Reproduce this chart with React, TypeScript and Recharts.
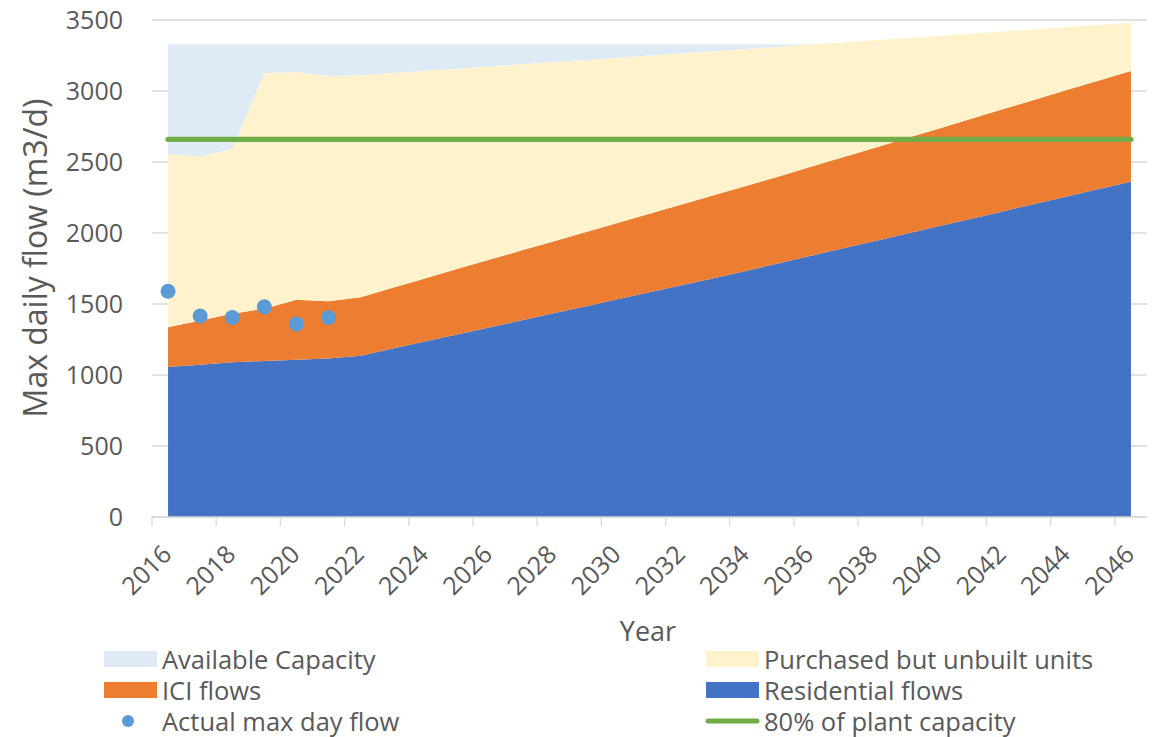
import React from 'react'
import { ComposedChart, Area, Line, XAxis, YAxis, CartesianGrid } from 'recharts'

const years = [
  2016, 2017, 2018, 2019, 2020, 2021, 2022, 2023, 2024, 2025, 2026, 2027, 2028, 2029, 2030, 2031,
  2032, 2033, 2034, 2035, 2036, 2037, 2038, 2039, 2040, 2041, 2042, 2043, 2044, 2045, 2046,
]

const residential = [
  1056, 1073, 1089, 1099, 1108, 1117, 1136, 1186, 1236, 1286, 1335, 1384, 1434, 1483, 1533, 1582,
  1632, 1682, 1733, 1786, 1838, 1890, 1942, 1994, 2047, 2099, 2152, 2204, 2257, 2309, 2361,
]

const iciFlows = [
  281, 311, 342, 368, 422, 403, 412, 428, 444, 460, 476, 492, 507, 523, 538, 554,
  568, 583, 598, 611, 626, 641, 657, 673, 688, 704, 719, 735, 750, 765, 780,
]

const purchasedUnbuilt = [
  1219, 1155, 1160, 1658, 1604, 1586, 1563, 1512, 1462, 1411, 1362, 1312, 1263, 1213, 1163, 1114,
  1065, 1015, 965, 914, 863, 811, 758, 706, 653, 601, 548, 495, 443, 391, 340,
]

const availableCapacity = [
  774, 791, 739, 205, 196, 224, 219, 204, 188, 173, 157, 142, 126, 111, 96, 80,
  65, 50, 34, 19, 3, 0, 0, 0, 0, 0, 0, 0, 0, 0, 0,
]

// 2016-2021 only
const actualMaxDay = [1590, 1415, 1405, 1480, 1360, 1405]

const plantCapacity80 = 2660

const yTicks = [0, 500, 1000, 1500, 2000, 2500, 3000, 3500]

const data = years.map((year, i) => ({
  year,
  residential: residential[i],
  ici: iciFlows[i],
  purchased: purchasedUnbuilt[i],
  available: availableCapacity[i],
  actual: i < actualMaxDay.length ? actualMaxDay[i] : null,
  plant80: plantCapacity80,
}))

// tick marks sit on category boundaries, every second year
const tickBounds = years.filter((_, i) => i % 2 === 0).map((y) => y - 0.5)

const FONT = '"Open Sans", sans-serif'
const TEXT = '#595959'
const GRID = '#d9d9d9'

const XTick = (props: any) => {
  const { x, y, payload } = props
  const tx = x + 21
  const ty = y + 30
  return (
    <text
      x={tx}
      y={ty}
      textAnchor="end"
      transform={`rotate(-45, ${tx}, ${ty})`}
      fontSize={25}
      fontFamily={FONT}
      fill={TEXT}
    >
      {Math.round(payload.value + 0.5)}
    </text>
  )
}

const legendLeft = [
  { label: 'Available Capacity', kind: 'box', color: '#DEEBF7' },
  { label: 'ICI flows', kind: 'box', color: '#ED7D31' },
  { label: 'Actual max day flow', kind: 'dot', color: '#5B9BD5' },
]
const legendRight = [
  { label: 'Purchased but unbuilt units', kind: 'box', color: '#FFF2CC' },
  { label: 'Residential flows', kind: 'box', color: '#4472C4' },
  { label: '80% of plant capacity', kind: 'line', color: '#70AD47' },
]
const rowY = [659, 690, 721]

function LegendItem({ item, x, y }: { item: any; x: number; y: number }) {
  return (
    <g>
      {item.kind === 'box' && <rect x={x} y={y - 8} width={53} height={16} fill={item.color} />}
      {item.kind === 'dot' && <circle cx={x + 24} cy={y} r={6} fill={item.color} />}
      {item.kind === 'line' && (
        <line x1={x + 2} x2={x + 51} y1={y} y2={y} stroke={item.color} strokeWidth={5} strokeLinecap="round" />
      )}
      <text x={x + 58} y={y} dominantBaseline="central" fontSize={25.5} fontFamily={FONT} fill={TEXT}>
        {item.label}
      </text>
    </g>
  )
}

export default function App() {
  return (
    <div style={{ position: 'absolute', left: 0, top: 0, width: 1154, height: 737, background: '#fff' }}>
      <ComposedChart
        width={1154}
        height={737}
        data={data}
        margin={{ top: 20, right: 7, bottom: 160, left: 0 }}
      >
        <CartesianGrid vertical={false} stroke={GRID} strokeWidth={1.3} />
        <XAxis
          dataKey="year"
          type="number"
          domain={[2015.5, 2046.5]}
          ticks={tickBounds}
          interval={0}
          allowDataOverflow
          height={60}
          tickSize={9}
          tickMargin={0}
          tickLine={{ stroke: GRID, strokeWidth: 1.3 }}
          axisLine={{ stroke: GRID, strokeWidth: 1.3 }}
          tick={<XTick />}
        />
        <YAxis
          domain={[0, 3500]}
          ticks={yTicks}
          interval={0}
          width={152}
          axisLine={false}
          tickLine={false}
          tickSize={0}
          tickMargin={29}
          tick={{ fontSize: 25, fontFamily: FONT, fill: TEXT }}
        />
        <Area type="linear" dataKey="residential" stackId="1" stroke="none" fill="#4472C4" fillOpacity={1} isAnimationActive={false} />
        <Area type="linear" dataKey="ici" stackId="1" stroke="none" fill="#ED7D31" fillOpacity={1} isAnimationActive={false} />
        <Area type="linear" dataKey="purchased" stackId="1" stroke="none" fill="#FFF2CC" fillOpacity={1} isAnimationActive={false} />
        <Area type="linear" dataKey="available" stackId="1" stroke="none" fill="#DEEBF7" fillOpacity={1} isAnimationActive={false} />
        <Line
          type="linear"
          dataKey="plant80"
          stroke="#70AD47"
          strokeWidth={5.3}
          strokeLinecap="round"
          dot={false}
          activeDot={false}
          isAnimationActive={false}
        />
        <Line
          type="linear"
          dataKey="actual"
          stroke="none"
          dot={{ r: 7.5, fill: '#5B9BD5', stroke: 'none', strokeWidth: 0 }}
          activeDot={false}
          isAnimationActive={false}
        />
      </ComposedChart>
      <svg width={1154} height={737} style={{ position: 'absolute', left: 0, top: 0, pointerEvents: 'none' }}>
        <text
          transform="translate(47, 258) rotate(-90)"
          textAnchor="middle"
          fontSize={32}
          fontFamily={FONT}
          fill={TEXT}
        >
          Max daily flow (m3/d)
        </text>
        <text x={648} y={641} textAnchor="middle" fontSize={27} fontFamily={FONT} fill={TEXT}>
          Year
        </text>
        {legendLeft.map((item, i) => (
          <LegendItem key={item.label} item={item} x={104} y={rowY[i]} />
        ))}
        {legendRight.map((item, i) => (
          <LegendItem key={item.label} item={item} x={706} y={rowY[i]} />
        ))}
      </svg>
    </div>
  )
}
